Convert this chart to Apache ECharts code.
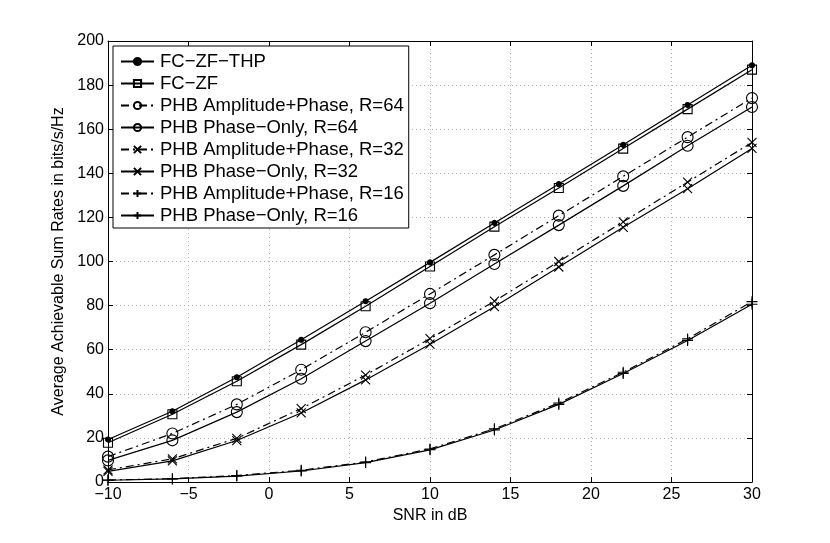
<!DOCTYPE html>
<html>
<head>
<meta charset="utf-8">
<script src="https://cdn.jsdelivr.net/npm/echarts@6/dist/echarts.min.js"></script>
<style>
  html, body { margin: 0; padding: 0; background: #fff; }
  #chart { width: 830px; height: 543px; }
</style>
</head>
<body>
<div id="chart"></div>
<script>
// SNR points (dB)
let snr = [-10, -6, -2, 2, 6, 10, 14, 18, 22, 26, 30];

// sum rates
let fcZfThp  = [19.3, 32.1, 47.5, 64.5, 82.0, 99.6, 117.5, 135.1, 152.9, 171.0, 189.0];
let fcZf     = [17.8, 30.7, 45.7, 62.3, 79.7, 97.7, 115.8, 133.3, 151.2, 169.1, 187.0];
let apR64    = [11.5, 22.0, 35.2, 50.9, 67.9, 85.3, 103.0, 120.8, 138.6, 156.4, 174.1];
let poR64    = [9.8, 18.9, 31.7, 46.8, 63.9, 81.1, 98.9, 116.5, 134.3, 152.5, 170.1];
let apR32    = [5.5, 10.5, 19.8, 33.3, 48.5, 65.0, 82.0, 100.0, 118.0, 136.0, 154.0];
let poR32    = [4.8, 9.6, 18.8, 31.3, 46.3, 62.5, 79.5, 97.5, 115.5, 133.0, 151.3];
let apR16    = [0.9, 1.5, 2.9, 5.3, 9.1, 15.0, 24.1, 35.8, 49.8, 64.9, 81.8];
let poR16    = [0.8, 1.4, 2.7, 5.0, 8.8, 14.6, 23.6, 35.2, 49.2, 64.2, 80.6];

let names = [
  "FC\u2212ZF\u2212THP",
  "FC\u2212ZF",
  "PHB Amplitude+Phase, R=64",
  "PHB Phase\u2212Only, R=64",
  "PHB Amplitude+Phase, R=32",
  "PHB Phase\u2212Only, R=32",
  "PHB Amplitude+Phase, R=16",
  "PHB Phase\u2212Only, R=16"
];

let font = "Liberation Sans, Arial, Helvetica, sans-serif";
let dashDot = [8, 4, 2, 4];
let crossPath = "path://M0,0L10,10M10,0L0,10";
let plusPath = "path://M5,0L5,10M0,5L10,5";

function pairs(ys) {
  return snr.map((x, i) => [x, ys[i]]);
}

function mk(name, ys, symbol, size, dashed, filled) {
  return {
    name: name,
    type: "line",
    data: pairs(ys),
    symbol: symbol,
    symbolSize: size,
    showAllSymbol: true,
    animation: false,
    lineStyle: { color: "#000", width: 1.2, type: dashed ? dashDot : "solid" },
    itemStyle: {
      color: filled ? "#000" : "none",
      borderColor: "#000",
      borderWidth: 1.1
    },
    emphasis: { disabled: true }
  };
}

let chart = echarts.init(document.getElementById("chart"), null, { renderer: "canvas" });

let minus = (v) => String(v).replace("-", "\u2212");

let tick = { show: true, inside: true, length: 5, lineStyle: { color: "#000" } };
let line = { show: true, onZero: false, lineStyle: { color: "#000", width: 1 } };
let grid = { show: true, lineStyle: { color: "#b0b0b0", type: [1, 3], width: 1 } };

chart.setOption({
  backgroundColor: "#fff",
  animation: false,
  textStyle: { fontFamily: font },
  grid: { left: 108, right: 78, top: 41, bottom: 61, show: false },
  legend: {
    orient: "vertical",
    left: 113,
    top: 46,
    padding: [6, 5, 3, 7],
    itemGap: 3,
    itemWidth: 33,
    itemHeight: 9,
    backgroundColor: "#fff",
    borderColor: "#000",
    borderWidth: 1,
    textStyle: { fontFamily: font, fontSize: 18.5, color: "#000", padding: [0, 0, 0, 1] },
    data: names
  },
  xAxis: [
    {
      type: "value",
      min: -10, max: 30, interval: 5,
      name: "SNR in dB",
      nameLocation: "middle",
      nameGap: 22,
      nameTextStyle: { fontFamily: font, fontSize: 16, color: "#000" },
      axisLine: line,
      axisTick: tick,
      axisLabel: { color: "#000", fontSize: 16, fontFamily: font, margin: 5, formatter: minus },
      splitLine: grid
    },
    {
      type: "value",
      position: "top",
      min: -10, max: 30, interval: 5,
      axisLine: line,
      axisTick: tick,
      axisLabel: { show: false },
      splitLine: { show: false }
    }
  ],
  yAxis: [
    {
      type: "value",
      min: 0, max: 200, interval: 20,
      name: "Average Achievable Sum Rates in bits/s/Hz",
      nameLocation: "middle",
      nameGap: 32,
      nameTextStyle: { fontFamily: font, fontSize: 16, color: "#000" },
      axisLine: line,
      axisTick: tick,
      axisLabel: { color: "#000", fontSize: 16, fontFamily: font, margin: 4 },
      splitLine: grid
    },
    {
      type: "value",
      position: "right",
      min: 0, max: 200, interval: 20,
      axisLine: line,
      axisTick: tick,
      axisLabel: { show: false },
      splitLine: { show: false }
    }
  ],
  series: [
    mk(names[0], fcZfThp, "circle", 5, false, true),
    mk(names[1], fcZf, "rect", 9, false, false),
    mk(names[2], apR64, "circle", 11, true, false),
    mk(names[3], poR64, "circle", 11, false, false),
    mk(names[4], apR32, crossPath, 9, true, false),
    mk(names[5], poR32, crossPath, 9, false, false),
    mk(names[6], apR16, plusPath, 11, true, false),
    mk(names[7], poR16, plusPath, 11, false, false)
  ]
});
</script>
</body>
</html>
